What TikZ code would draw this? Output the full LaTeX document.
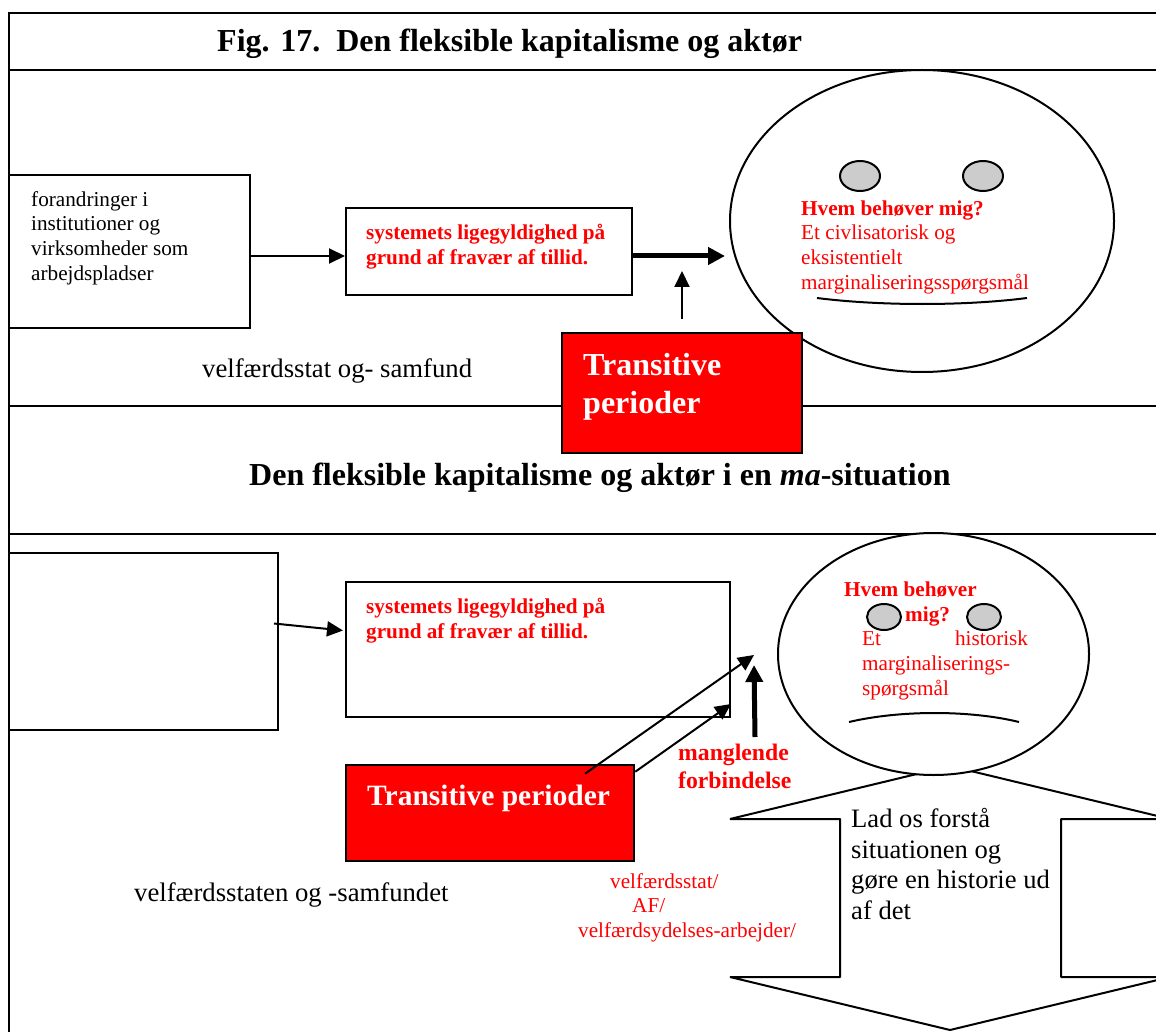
\documentclass[tikz,border=0pt]{standalone}
\usepackage{fontspec}
\setmainfont{Liberation Serif}
\usepackage{tikz}
\usetikzlibrary{calc}
\usetikzlibrary{positioning}
\usetikzlibrary{arrows.meta}
\usetikzlibrary{shapes.geometric}
\tikzset{
  kasse/.style={rectangle,draw=black,line width=2pt,fill=white,inner sep=0pt},
  rodkasse/.style={rectangle,draw=black,line width=2.5pt,fill=red,inner sep=0pt},
  ansigt/.style={ellipse,draw=black,line width=2pt,fill=white,inner sep=0pt},
  oje/.style={ellipse,draw=black,line width=2pt,fill=black!20,inner sep=0pt},
  tekst/.style={inner sep=0pt,anchor=north west,align=left,font=\fontsize{21.2}{24.7}\selectfont},
  stor/.style={tekst,font=\fontsize{26.7}{31}\selectfont},
  rod/.style={tekst,text=red},
  rodfed/.style={tekst,text=red,font=\fontsize{21.2}{24.7}\selectfont\bfseries},
  titel/.style={inner sep=0pt,anchor=north west,font=\fontsize{32}{36}\selectfont\bfseries},
  pil/.style={line width=2pt,-{Triangle[length=16pt,width=15pt]}},
  fedpil/.style={line width=5pt,-{Triangle[length=17pt,width=17pt]}}
}
\begin{document}
\begin{tikzpicture}[x=1pt,y=-1pt]
\clip (0,0) rectangle (1156,1032);
\fill[white] (0,0) rectangle (1156,1032);
\draw[line width=2pt] (1156,13) -- (9,13) -- (9,1032);
\draw[line width=2pt] (9,406) -- (1156,406);
\draw[line width=2pt] (9,534) -- (1156,534);

\node[titel] (titelA) at ( 217, 29 ) {Fig. 17.\ \ Den fleksible kapitalisme og aktør};
\node[titel] (titelB) at ( 249, 463 ) {Den fleksible kapitalisme og aktør i en \textit{ma}-situation};

\node[ansigt, minimum width=384pt, minimum height=302pt] (faceA) at ( 922, 221 ) {};
\draw[line width=2pt] (9,70) -- (1156,70);
\node[oje, minimum width=40pt, minimum height=30pt] (ojeA) at ( 860, 176 ) {};
\node[oje, minimum width=40pt, minimum height=30pt] (ojeB) at ( 983, 176 ) {};
\draw[line width=2pt] (817,298) .. controls (880,306) and (965,306) .. (1027,298);

\node[kasse, minimum width=241pt, minimum height=153pt] (boxA) at ( 129.5, 251.5 ) {};
\node[kasse, minimum width=286pt, minimum height=87pt] (boxB) at ( 489, 251.5 ) {};
\node[tekst] (tekstA) at ( 31, 191 ) {forandringer i\\institutioner og\\virksomheder som\\arbejdspladser};
\node[rodfed] (tekstB) at ( 366, 224 ) {systemets ligegyldighed på\\grund af fravær af tillid.};
\node[rodfed] (hvemA) at ( 801, 201 ) {Hvem behøver mig?};
\node[rod] (tekstC) at ( 801, 225 ) {Et civlisatorisk og\\eksistentielt\\marginaliseringsspørgsmål};
\node[stor] (velfA) at ( 202, 358 ) {velfærdsstat og- samfund};
\coordinate (pilA) at ( 725, 256 );
\coordinate (pilB) at ( 682, 271 );
\draw[pil] ([yshift=-4.5pt]boxA.east) -- ([yshift=-4.5pt]boxB.west);
\draw[fedpil] ([yshift=-4.5pt]boxB.east) -- (pilA);

\node[rodkasse, minimum width=240pt, minimum height=120pt] (transA) at ( 682, 393 ) {};
\node[titel, text=white, font=\fontsize{32}{38}\selectfont\bfseries, align=left] (transAt) at ( 583, 353 ) {Transitive\\perioder};
\draw[pil] ([yshift=13pt]transA.north) -- (pilB);

\draw[line width=2pt,fill=white,line join=bevel] (730,819) -- (950,766) -- (1170,819) -- (1061,819) -- (1061,977) -- (1170,977) -- (950,1030) -- (730,977) -- (840,977) -- (840,819) -- cycle;
\node[stor, font=\fontsize{26.6}{30.7}\selectfont] (lad) at ( 851, 808 ) {Lad os forstå\\situationen og\\gøre en historie ud\\af det};

\node[ansigt, minimum width=311pt, minimum height=242pt] (faceB) at ( 933.5, 654 ) {};
\node[oje, minimum width=34pt, minimum height=26pt] (ojeC) at ( 884, 617 ) {};
\node[oje, minimum width=34pt, minimum height=26pt] (ojeD) at ( 984, 617 ) {};
\draw[line width=2pt] (849,722) .. controls (900,710) and (970,710) .. (1019,722);
\node[rodfed] (hvemB) at ( 844, 582 ) {Hvem behøver\\\hspace*{61pt}mig?};
\node[rod] (tekstD) at ( 862, 631 ) {Et\hspace*{74pt}historisk\\marginaliserings-\\spørgsmål};

\node[kasse, minimum width=269pt, minimum height=177pt] (boxC) at ( 143.5, 641.5 ) {};
\node[kasse, minimum width=384pt, minimum height=135pt] (boxD) at ( 538, 649.5 ) {};
\node[rodfed] (tekstE) at ( 366, 598 ) {systemets ligegyldighed på\\grund af fravær af tillid.};
\draw[pil] ([xshift=-5pt,yshift=18pt]boxC.east) -- ([xshift=-2pt,yshift=19pt]boxD.west);

\node[rodkasse, minimum width=288pt, minimum height=96pt] (transB) at ( 490, 813 ) {};
\node[titel, text=white, font=\fontsize{29.5}{36}\selectfont\bfseries] (transBt) at ( 367, 785 ) {Transitive perioder};
\coordinate (pilC) at ( 754, 655 );
\coordinate (pilD) at ( 754, 665 );
\draw[pil] ([xshift=95pt,yshift=-10pt]transB.north) -- (pilC);
\draw[pil] ([yshift=-8pt]transB.north east) -- ([yshift=14pt]boxD.south east);
\node[rodfed, font=\fontsize{23.7}{28}\selectfont\bfseries] (mangler) at ( 678, 744 ) {manglende\\forbindelse};
\draw[fedpil] ([xshift=24pt,yshift=-19pt]boxD.south east) -- (pilD);
\node[rod] (velfC) at ( 578, 873 ) {\hspace*{32pt}velfærdsstat/\\\hspace*{54pt}AF/\\velfærdsydelses-arbejder/};
\node[stor] (velfB) at ( 134, 882 ) {velfærdsstaten og -samfundet};
\end{tikzpicture}
\end{document}
